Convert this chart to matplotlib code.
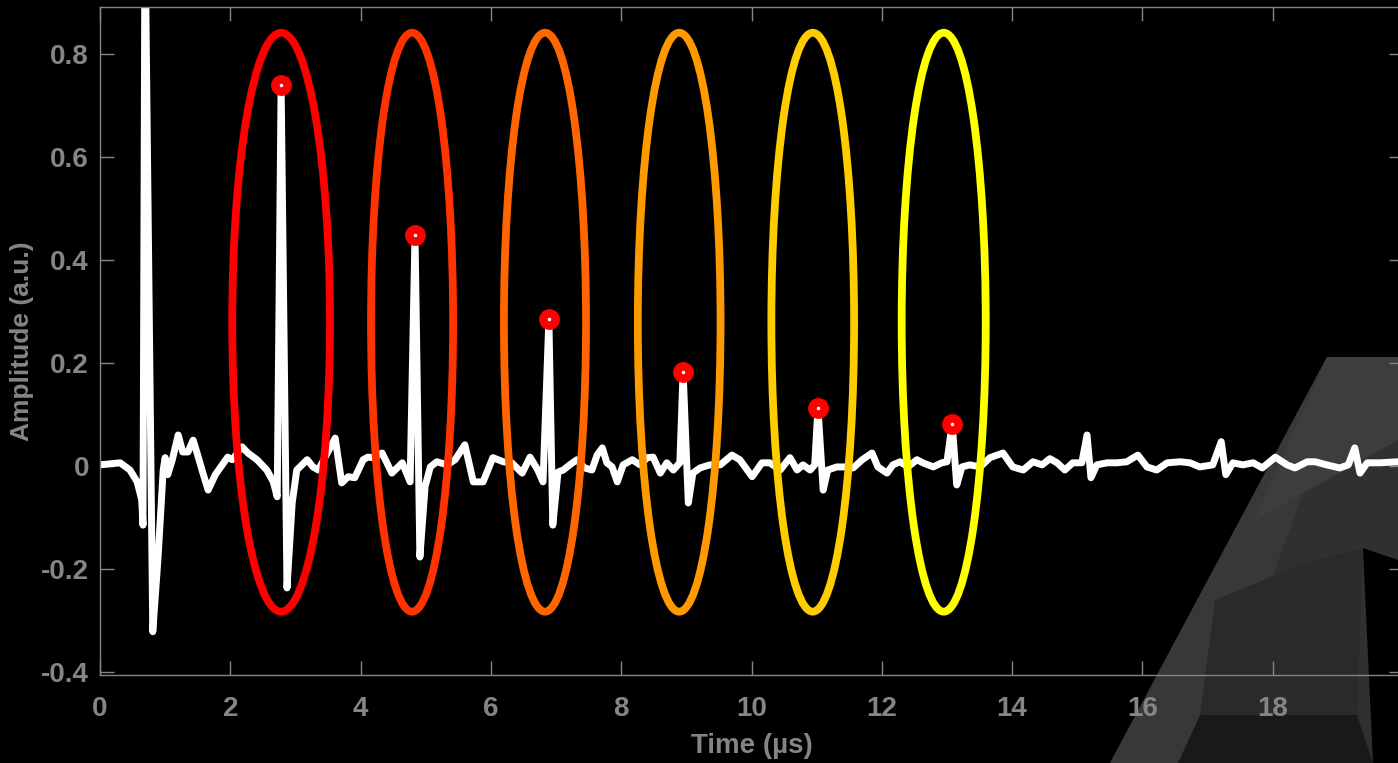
import matplotlib
matplotlib.use("Agg")
import matplotlib.pyplot as plt
import numpy as np
from matplotlib.patches import Ellipse, Polygon

# ---- data -------------------------------------------------------------
t_us = [0.00, 0.31, 0.46, 0.57, 0.64, 0.66, 0.69, 0.81, 0.89, 0.97,
        1.00, 1.04, 1.11, 1.20, 1.27, 1.35, 1.43, 1.49, 1.58, 1.66,
        1.77, 1.96, 2.03, 2.18, 2.27, 2.41, 2.56, 2.66, 2.72, 2.78,
        2.87, 2.95, 3.02, 3.18, 3.27, 3.35, 3.41, 3.61, 3.71, 3.81,
        3.91, 4.04, 4.11, 4.19, 4.33, 4.48, 4.64, 4.76, 4.835, 4.91,
        4.99, 5.07, 5.17, 5.33, 5.45, 5.60, 5.73, 5.88, 6.03, 6.19,
        6.32, 6.48, 6.60, 6.72, 6.80, 6.89, 6.95, 7.03, 7.11, 7.21,
        7.32, 7.44, 7.55, 7.63, 7.71, 7.78, 7.86, 7.94, 8.03, 8.17,
        8.29, 8.40, 8.49, 8.60, 8.70, 8.80, 8.90, 8.95, 9.03, 9.10,
        9.21, 9.36, 9.52, 9.70, 9.82, 10.01, 10.16, 10.28, 10.44, 10.59,
        10.70, 10.79, 10.90, 10.97, 11.02, 11.10, 11.17, 11.31, 11.44, 11.56,
        11.70, 11.85, 11.94, 12.08, 12.17, 12.28, 12.40, 12.54, 12.63, 12.79,
        12.92, 13.00, 13.08, 13.15, 13.23, 13.35, 13.51, 13.66, 13.86, 14.01,
        14.17, 14.32, 14.46, 14.58, 14.69, 14.81, 14.93, 15.07, 15.15, 15.21,
        15.30, 15.46, 15.61, 15.76, 15.93, 16.07, 16.22, 16.38, 16.58, 16.73,
        16.88, 17.08, 17.21, 17.28, 17.39, 17.54, 17.70, 17.84, 18.04, 18.22,
        18.34, 18.53, 18.65, 18.83, 19.03, 19.16, 19.26, 19.34, 19.45, 19.65,
        19.92, 20.00]

amplitude = [0.002, 0.006, -0.008, -0.031, -0.066, -0.115, 1.050, -0.322, -0.180, -0.008,
             0.016, -0.017, 0.012, 0.060, 0.027, 0.027, 0.050, 0.025, -0.014, -0.047,
             -0.017, 0.017, 0.012, 0.037, 0.025, 0.012, -0.008, -0.031, -0.060, 0.740,
             -0.237, -0.072, -0.008, 0.012, -0.002, -0.008, 0.006, 0.054, -0.033, -0.021,
             -0.023, 0.012, 0.017, 0.016, 0.025, -0.014, 0.006, -0.031, 0.449, -0.177,
             -0.040, -0.002, 0.008, 0.002, 0.012, 0.041, -0.031, -0.031, 0.016, 0.008,
             0.006, -0.014, 0.017, -0.008, -0.031, 0.285, -0.115, -0.012, -0.008, 0.002,
             0.012, -0.004, -0.008, 0.021, 0.035, 0.006, -0.002, -0.031, 0.002, 0.012,
             0.002, 0.016, 0.017, -0.014, 0.006, -0.008, 0.006, 0.183, -0.072, -0.014,
             -0.004, 0.002, 0.002, 0.021, 0.012, -0.021, 0.006, 0.006, -0.008, 0.016,
             -0.008, 0.002, -0.008, 0.002, 0.113, -0.047, -0.008, -0.002, -0.002, -0.004,
             0.012, 0.025, -0.002, -0.014, 0.002, 0.008, -0.002, 0.012, 0.006, -0.002,
             0.006, 0.008, 0.082, -0.037, -0.002, 0.002, -0.002, 0.016, 0.025, -0.002,
             -0.008, 0.008, 0.002, 0.014, 0.006, -0.008, 0.006, 0.006, 0.060, -0.023,
             0.002, 0.006, 0.006, 0.008, 0.021, -0.002, -0.008, 0.006, 0.008, 0.006,
             -0.002, 0.002, 0.047, -0.017, 0.006, 0.002, 0.006, -0.004, 0.017, 0.002,
             -0.004, 0.008, 0.008, 0.002, -0.004, 0.002, 0.035, -0.014, 0.006, 0.006,
             0.008, 0.005]

# echo peaks marked with dots
peak_t = [2.78, 4.835, 6.89, 8.95, 11.02, 13.08]
peak_amp = [0.740, 0.449, 0.285, 0.183, 0.113, 0.082]

# ellipses enclosing each echo
ellipse_t = [2.78, 4.79, 6.83, 8.89, 10.94, 12.95]
ellipse_w = [1.50, 1.26, 1.26, 1.27, 1.27, 1.29]
ellipse_y = 0.279
ellipse_h = 1.124

x_ticks = [0, 2, 4, 6, 8, 10, 12, 14, 16, 18]
y_ticks = [-0.4, -0.2, 0.0, 0.2, 0.4, 0.6, 0.8]
y_tick_labels = ["-0.4", "-0.2", "0", "0.2", "0.4", "0.6", "0.8"]

# ---- figure -----------------------------------------------------------
W, H = 1398, 763
fig = plt.figure(figsize=(W / 100, H / 100), dpi=100, facecolor="black")
plt.rcParams["font.family"] = ["Liberation Sans", "DejaVu Sans"]
plt.rcParams["font.weight"] = "bold"

GRAY = "#858585"


def px(x, y):
    return (x / W, 1 - y / H)


# low-poly "A" emblem in the lower right corner
emblem = [
    ([(1110, 763), (1327, 357), (1398, 357), (1398, 763)], "#303030"),
    ([(1110, 763), (1327, 357), (1352, 357), (1205, 763)], "#383838"),
    ([(1255, 520), (1327, 357), (1398, 357), (1398, 440)], "#3d3d3d"),
    ([(1215, 600), (1300, 565), (1363, 548), (1357, 715), (1200, 715)],
     "#2a2a2a"),
    ([(1200, 715), (1357, 715), (1373, 763), (1178, 763)], "#191919"),
    ([(1363, 548), (1398, 560), (1398, 763), (1373, 763)], "#000000"),
]
for verts, col in emblem:
    fig.patches.append(Polygon([px(*v) for v in verts], closed=True,
                               transform=fig.transFigure, facecolor=col,
                               edgecolor="none", zorder=0))

ax = fig.add_axes([100 / W, 1 - 675 / H, 1303 / W, 668 / H])
ax.set_zorder(2)
ax.patch.set_alpha(0.0)

ax.plot(t_us, amplitude, color="white", lw=5.0, solid_joinstyle="round",
        zorder=2)

colors = plt.cm.autumn(np.linspace(0, 1, len(ellipse_t)))
for cx, w, c in zip(ellipse_t, ellipse_w, colors):
    ax.add_patch(Ellipse((cx, ellipse_y), w, ellipse_h, fill=False,
                         edgecolor=c, lw=5.6, zorder=3))

ax.plot(peak_t, peak_amp, "o", color="red", ms=14, mec="red", zorder=4)
ax.plot(peak_t, peak_amp, "o", color="white", ms=1.5, mec="white", zorder=5)

ax.set_xlim(0, 20)
ax.set_ylim(-0.406, 0.891)
ax.set_xticks(x_ticks)
ax.set_yticks(y_ticks)
ax.set_yticklabels(y_tick_labels)

for s in ax.spines.values():
    s.set_color(GRAY)
    s.set_linewidth(1.0)
ax.tick_params(axis="both", which="both", direction="in", length=10,
               width=1.0, color=GRAY, labelcolor=GRAY, labelsize=20,
               top=True, right=True)
ax.tick_params(axis="x", pad=15)
ax.tick_params(axis="y", pad=8)
for lab in ax.get_xticklabels() + ax.get_yticklabels():
    lab.set_fontweight("bold")

ax.set_xlabel("Time (µs)", color=GRAY, fontsize=20, fontweight="bold",
              labelpad=8)
ax.set_ylabel("Amplitude (a.u.)", color=GRAY, fontsize=19, fontweight="bold",
              labelpad=5)

fig.savefig("out.png", dpi=100, facecolor="black")
